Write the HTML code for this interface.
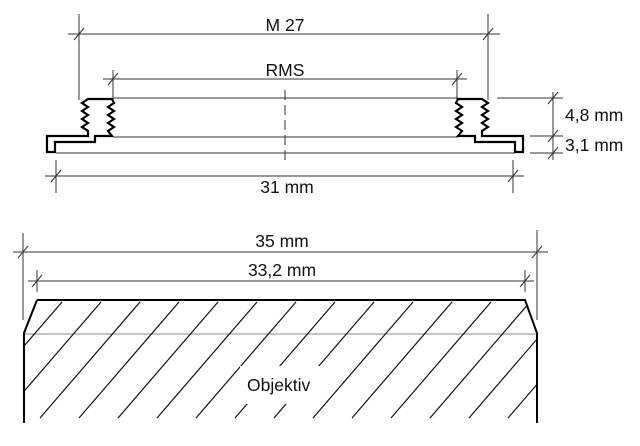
<!DOCTYPE html>
<html><head><style>body{margin:0;background:#fff}svg{display:block}text{font-family:"Liberation Sans",sans-serif;font-size:17.5px;fill:#111}</style></head>
<body>
<svg width="640" height="446" viewBox="0 0 640 446" xmlns="http://www.w3.org/2000/svg">
<g stroke="#333" stroke-width="1" fill="none">
<line x1="68" y1="34" x2="500" y2="34"/>
<line x1="79" y1="14" x2="79" y2="100"/>
<line x1="488" y1="14" x2="488" y2="100"/>
<line x1="74" y1="40" x2="84" y2="28"/><line x1="483" y1="40" x2="493" y2="28"/>
<line x1="103" y1="79" x2="467" y2="79"/>
<line x1="113" y1="70" x2="113" y2="100"/>
<line x1="457" y1="70" x2="457" y2="100"/>
<line x1="108" y1="85" x2="118" y2="73"/><line x1="452" y1="85" x2="462" y2="73"/>
<line x1="113" y1="98" x2="458" y2="98"/>
<line x1="113" y1="137" x2="458" y2="137"/>
<line x1="56" y1="153" x2="515" y2="153"/>
<line x1="285" y1="90" x2="285" y2="160" stroke-dasharray="10,5"/>
<line x1="45" y1="176" x2="524" y2="176"/>
<line x1="56" y1="160" x2="56" y2="193"/>
<line x1="513" y1="160" x2="513" y2="193"/>
<line x1="51" y1="182" x2="61" y2="170"/><line x1="508" y1="182" x2="518" y2="170"/>
<line x1="553" y1="92" x2="553" y2="160"/>
<line x1="497" y1="98" x2="563" y2="98"/>
<line x1="530" y1="136" x2="563" y2="136"/>
<line x1="530" y1="153" x2="563" y2="153"/>
<line x1="548" y1="104" x2="558" y2="92"/><line x1="548" y1="142" x2="558" y2="130"/><line x1="548" y1="159" x2="558" y2="147"/>
<line x1="13" y1="252" x2="548" y2="252"/>
<line x1="23" y1="233" x2="23" y2="320"/>
<line x1="537" y1="230" x2="537" y2="320"/>
<line x1="18" y1="258" x2="28" y2="246"/><line x1="532" y1="258" x2="542" y2="246"/>
<line x1="28" y1="281" x2="534" y2="281"/>
<line x1="37" y1="270" x2="37" y2="292"/>
<line x1="525" y1="270" x2="525" y2="292"/>
<line x1="32" y1="287" x2="42" y2="275"/><line x1="520" y1="287" x2="530" y2="275"/>
<line x1="24" y1="334" x2="537" y2="334" stroke="#888"/>
</g>
<g stroke="#000" stroke-width="2.2" fill="none" stroke-linejoin="miter">
<path d="M88,99 L112,99 L114,103 L108,107 L114,111 L108,115 L114,119 L108,123 L114,127 L108,131 L112,136 L95,136 L95,142 L55,142 L55,152 L47,152 L47,136 L88,136 L88,131 L82,127 L88,123 L82,119 L88,115 L82,111 L88,107 L82,103 Z"/>
<path d="M482,99 L458,99 L456,103 L462,107 L456,111 L462,115 L456,119 L462,123 L456,127 L462,131 L458,136 L475,136 L475,142 L515,142 L515,152 L523,152 L523,136 L482,136 L482,131 L488,127 L482,123 L488,119 L482,115 L488,111 L482,107 L488,103 Z"/>
</g>
<defs><clipPath id="c"><polygon points="37,300 525,300 537,333 537,423 24,423 24,333"/></clipPath></defs>
<g clip-path="url(#c)" stroke="#111" stroke-width="1.2">
<line x1="-38" y1="418" x2="62" y2="302"/>
<line x1="1" y1="418" x2="101" y2="302"/>
<line x1="40" y1="418" x2="140" y2="302"/>
<line x1="79" y1="418" x2="179" y2="302"/>
<line x1="118" y1="418" x2="218" y2="302"/>
<line x1="157" y1="418" x2="257" y2="302"/>
<line x1="196" y1="418" x2="296" y2="302"/>
<line x1="235" y1="418" x2="335" y2="302"/>
<line x1="274" y1="418" x2="374" y2="302"/>
<line x1="313" y1="418" x2="413" y2="302"/>
<line x1="352" y1="418" x2="452" y2="302"/>
<line x1="391" y1="418" x2="491" y2="302"/>
<line x1="430" y1="418" x2="530" y2="302"/>
<line x1="469" y1="418" x2="569" y2="302"/>
<line x1="508" y1="418" x2="608" y2="302"/>
</g>
<rect x="240" y="366" width="82" height="38" fill="#fff"/>
<path d="M37,300 L525,300 L537,333 L537,423 M37,300 L24,333 L24,423" stroke="#000" stroke-width="2" fill="none"/>
<g text-anchor="middle">
<text x="285" y="31">M 27</text>
<text x="285" y="76">RMS</text>
<text x="287" y="193">31 mm</text>
<text x="282" y="247">35 mm</text>
<text x="282" y="276">33,2 mm</text>
</g>
<text x="247" y="391">Objektiv</text>
<text x="565" y="121">4,8 mm</text>
<text x="565" y="151">3,1 mm</text>
</svg>
</body></html>
